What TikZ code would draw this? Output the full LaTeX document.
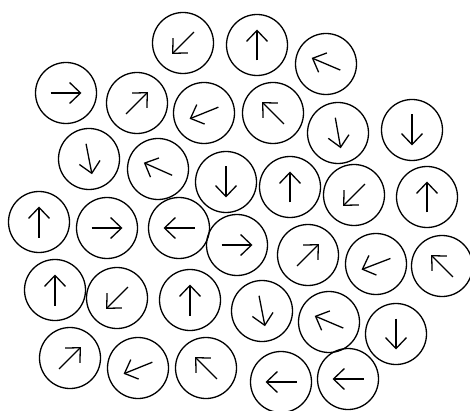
\documentclass[tikz,border=0pt]{standalone}
\usetikzlibrary{arrows.meta,calc}

\begin{document}
\begin{tikzpicture}[
    x=1pt,
    y=1pt,
%
    disc/.style={
        circle,
        draw,
        line width=1.3pt,
        minimum size=61pt,
        inner sep=0pt
    },
%
    spin/.style={
        -{Straight Barb[length=11pt,width=21pt,line width=1.3pt]},
        line width=1.3pt
    }
]
\useasboundingbox (0,-411) rectangle (470,0);
%
% Each entry: x / y (from the top) / direction of the arrow.
%
\foreach \px/\py/\ang [count=\i] in {
    183/43/225, 257/45/90, 326/64/157,
    66/93/0, 137/103/45, 204/113/202, 273/113/135, 338/133/280, 412/130/270,
    89/159/281, 158/169/156, 226/182/270, 290/187/90, 354/195/225, 427/197/90,
    39/222/90, 107/228/0, 179/228/180, 237/245/0, 308/255/45, 376/264/201, 442/266/135,
    55/290/90, 117/298/225, 190/300/90, 262/311/281, 329/322/157, 396/334/270,
    70/358/45, 138/368/202, 206/368/135, 281/382/180, 348/379/180
}{
    \node[disc] (c\i) at (\px,-\py) {};
    \draw[spin] ($(c\i)+(\ang+180:15.5)$) -- ($(c\i)+(\ang:15.5)$);
}
%
\end{tikzpicture}
\end{document}
